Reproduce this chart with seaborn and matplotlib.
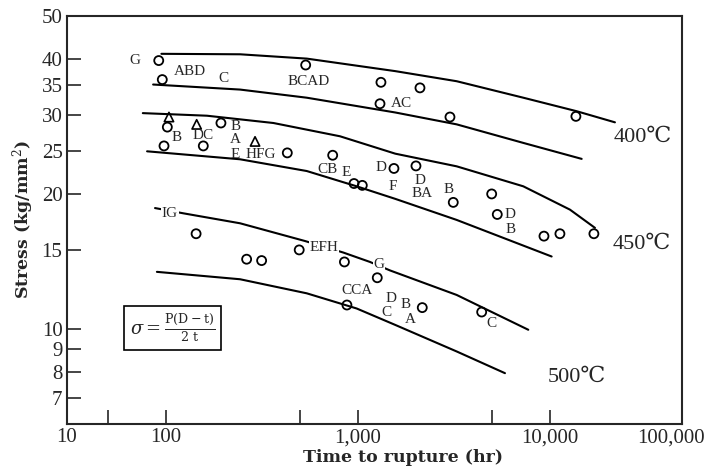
import numpy as np
import pandas as pd
import matplotlib
matplotlib.use("Agg")
import matplotlib.pyplot as plt
import seaborn as sns

# ====================== DATA ======================
# rupture curves: time (hr) and stress (kg/mm2)
curve_400_hi_t = [95, 244, 543, 1570, 3278, 7288, 13820, 21880]
curve_400_hi_s = [41.1, 41.0, 40.1, 37.6, 35.7, 32.8, 30.6, 28.9]
curve_400_lo_t = [86, 244, 543, 1570, 3278, 7288, 14680]
curve_400_lo_s = [35.1, 34.2, 32.8, 30.4, 28.6, 26.0, 23.95]
curve_450_hi_t = [76, 164, 364, 809, 1570, 3278, 7288, 12755, 17220]
curve_450_hi_s = [30.3, 29.9, 28.8, 26.9, 24.6, 23.05, 20.8, 18.45, 16.8]
curve_450_lo_t = [80, 244, 543, 988, 1570, 3278, 10240]
curve_450_lo_s = [24.9, 23.9, 22.5, 20.8, 19.5, 17.5, 14.5]
curve_500_hi_t = [88, 124, 244, 532, 841, 1159, 1473, 3278, 7738]
curve_500_hi_s = [18.6, 18.1, 17.2, 15.7, 14.8, 14.1, 13.5, 11.9, 9.95]
curve_500_lo_t = [90, 244, 543, 988, 1570, 3278, 5851]
curve_500_lo_s = [13.4, 12.9, 12.0, 11.1, 10.2, 8.9, 7.96]

# test points (open circles)
circle_t = [92, 96, 102, 98, 157, 194, 430, 741, 957, 1057,
            536, 1322, 2111, 1307, 3025, 13700,
            1545, 2012, 3147, 4989, 5335, 9340, 11310, 17000,
            144, 264, 316, 496, 853, 1265, 879, 2170, 4425]
circle_s = [39.7, 36.0, 28.2, 25.6, 25.6, 28.8, 24.7, 24.4, 21.1, 20.9,
            38.8, 35.5, 34.5, 31.8, 29.7, 29.8,
            22.8, 23.1, 19.15, 20.0, 18.0, 16.1, 16.3, 16.3,
            16.3, 14.3, 14.2, 15.0, 14.1, 13.0, 11.3, 11.15, 10.9]
# open triangles
tri_t = [104, 145, 292]
tri_s = [29.7, 28.6, 26.2]

# specimen letters next to points
letter_txt = ["G", "ABD", "C", "BCAD", "AC", "B", "DC", "B", "A", "E", "HFG",
              "CB", "E", "D", "D", "F", "BA", "B", "D", "B",
              "CCA", "D", "C", "B", "A", "C"]
letter_t = [69, 134, 199, 553, 1695, 114, 156, 230, 230, 230, 312,
            700, 876, 1322, 2111, 1521, 2153, 2964, 6209, 6265,
            988, 1485, 1416, 1785, 1873, 4989]
letter_s = [39.7, 37.5, 36.2, 35.6, 31.8, 26.8, 27.0, 28.3, 26.4, 24.5, 24.5,
            22.7, 22.3, 22.9, 21.45, 20.8, 20.0, 20.5, 18.0, 16.7,
            12.15, 11.7, 10.85, 11.35, 10.5, 10.25]
# letters sitting on the 500C upper curve
gap_txt = ["IG", "EFH", "G"]
gap_t = [105, 667, 1291]
gap_s = [18.1, 15.2, 13.95]

temp_txt = ["400℃", "450℃", "500℃"]
temp_t = [30700, 30100, 13900]
temp_s = [26.8, 15.4, 7.8]

y_ticks = [7, 8, 9, 10, 15, 20, 25, 30, 35, 40, 50]
x_ticks = [50, 100, 500, 1000, 5000, 10000]
x_tick_labels = ["", "100", "", "1,000", "", "10,000"]

# ====================== PLOT =======================
sns.set_style("ticks")
plt.rcParams['font.family'] = ['Liberation Serif', 'DejaVu Serif', 'DejaVu Sans']
plt.rcParams['mathtext.fontset'] = 'dejavuserif'

fig = plt.figure(figsize=(7.28, 4.71), dpi=100)
ax = fig.add_axes([0.0916, 0.0998, 0.8452, 0.8669])

curves = [(curve_400_hi_t, curve_400_hi_s), (curve_400_lo_t, curve_400_lo_s),
          (curve_450_hi_t, curve_450_hi_s), (curve_450_lo_t, curve_450_lo_s),
          (curve_500_hi_t, curve_500_hi_s), (curve_500_lo_t, curve_500_lo_s)]
for t, s in curves:
    sns.lineplot(x=t, y=s, ax=ax, color="black", lw=1.5, estimator=None)

sns.scatterplot(x=circle_t, y=circle_s, ax=ax, marker="o", s=42,
                facecolor="none", edgecolor="black", linewidth=1.3, zorder=3)
sns.scatterplot(x=tri_t, y=tri_s, ax=ax, marker="^", s=45,
                facecolor="none", edgecolor="black", linewidth=1.2, zorder=3)

for txt, t, s in zip(letter_txt, letter_t, letter_s):
    ax.text(t, s, txt, fontsize=11, ha="center", va="center")
for txt, t, s in zip(gap_txt, gap_t, gap_s):
    ax.text(t, s, txt, fontsize=11, ha="center", va="center", zorder=4,
            bbox=dict(facecolor="white", edgecolor="none", pad=0.5))
for txt, t, s in zip(temp_txt, temp_t, temp_s):
    ax.text(t, s, txt, fontsize=16, ha="center", va="center")

ax.text(0.172, 0.235, r"$\sigma = \frac{\mathrm{P(D-t)}}{\mathrm{2\ t}}$",
        transform=ax.transAxes, fontsize=13, ha="center", va="center",
        bbox=dict(facecolor="white", edgecolor="black", lw=1.2, pad=4))

ax.set_xscale("log")
ax.set_yscale("log")
ax.set_xlim(30.5, 48900)
ax.set_ylim(6.13, 50)

ax.set_yticks(y_ticks)
ax.set_yticklabels([str(v) for v in y_ticks])
ax.set_xticks(x_ticks)
ax.set_xticklabels(x_tick_labels)
ax.minorticks_off()
ax.tick_params(axis="both", direction="in", length=10, width=1.2,
               labelsize=15, pad=3)
ax.tick_params(axis="x", pad=3)
# end labels of the compressed time axis
ax.text(0.0, -0.01, "10", transform=ax.transAxes, fontsize=15,
        ha="center", va="top")
ax.text(0.982, -0.01, "100,000", transform=ax.transAxes, fontsize=15,
        ha="center", va="top")

for sp in ax.spines.values():
    sp.set_linewidth(1.5)
    sp.set_visible(True)

lab_font = dict(family=["DejaVu Serif"], fontsize=12.5, fontweight="bold")
ax.set_xlabel("Time to rupture (hr)", **lab_font)
ax.xaxis.set_label_coords(0.547, -0.062)
ax.set_ylabel("Stress (kg/mm$^2$)", labelpad=4, **lab_font)

fig.savefig("out.png", dpi=100)
